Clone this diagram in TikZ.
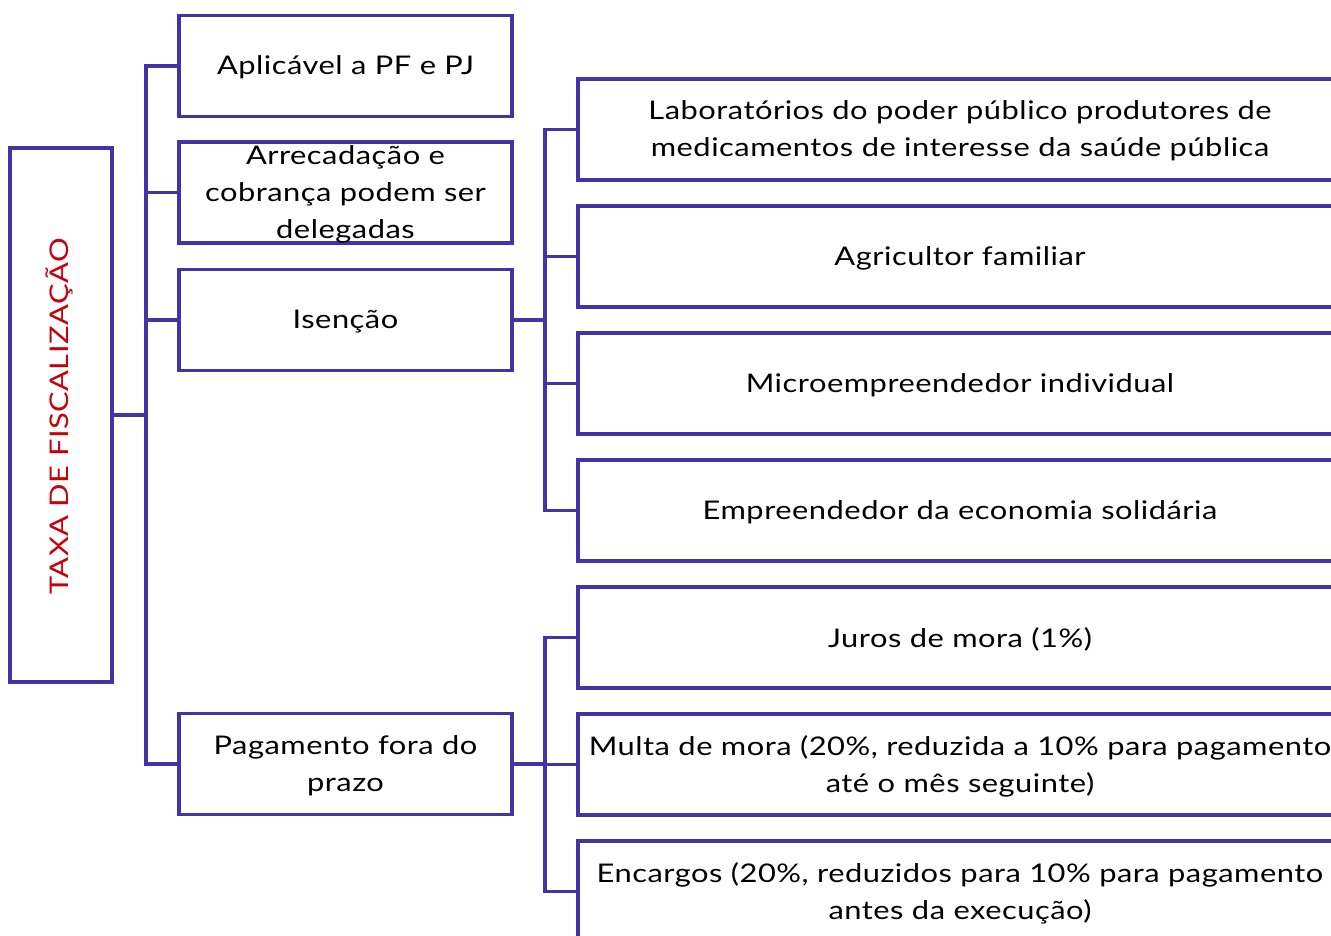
\documentclass[tikz,border=0pt]{standalone}
\usepackage{fontspec}
\setmainfont{Lato}[FakeStretch=1.2,LetterSpace=2]
\definecolor{pline}{RGB}{70,50,168}
\definecolor{tred}{RGB}{200,0,10}
\begin{document}
\begin{tikzpicture}[x=1pt,y=-1pt,
  boxs/.style={draw=pline,line width=3.2pt,inner sep=0pt,minimum height=101pt},
  midbox/.style={boxs,minimum width=333pt},
  rbox/.style={boxs,minimum width=764pt},
  txt/.style={font=\fontsize{25.7}{37}\selectfont,align=center,inner sep=0pt,yshift=-1.5pt},
  conn/.style={draw=pline,line width=3.2pt}]
\useasboundingbox (0,0) rectangle (1331,936);
\clip (0,0) rectangle (1331,936);
% left box
\node[boxs,minimum width=102pt,minimum height=534pt] (L) at (61,415) {};
\node[txt,text=tred,rotate=90,yshift=1.5pt] at (L) {TAXA DE FISCALIZAÇÃO};
% middle boxes
\node[midbox] (b1) at (345.5,66) {};
\node[txt] at (b1) {Aplicável a PF e PJ};
\node[midbox] (b2) at (345.5,192.5) {};
\node[txt] at (b2) {Arrecadação e\\cobrança podem ser\\delegadas};
\node[midbox] (b3) at (345.5,320) {};
\node[txt] at (b3) {Isenção};
\node[midbox] (b4) at (345.5,764) {};
\node[txt] at (b4) {Pagamento fora do\\prazo};
% right boxes
\node[rbox] (r1) at (960,129.5) {};
\node[txt] at (r1) {Laboratórios do poder público produtores de\\medicamentos de interesse da saúde pública};
\node[rbox] (r2) at (960,256.5) {};
\node[txt] at (r2) {Agricultor familiar};
\node[rbox] (r3) at (960,383.5) {};
\node[txt] at (r3) {Microempreendedor individual};
\node[rbox] (r4) at (960,510.5) {};
\node[txt] at (r4) {Empreendedor da economia solidária};
\node[rbox] (r5) at (960,637.5) {};
\node[txt] at (r5) {Juros de mora (1\%)};
\node[rbox] (r6) at (960,764.5) {};
\node[txt] at (r6) {Multa de mora (20\%, reduzida a 10\% para pagamento\\até o mês seguinte)};
\node[rbox] (r7) at (960,891.5) {};
\node[txt] at (r7) {Encargos (20\%, reduzidos para 10\% para pagamento\\antes da execução)};
% connectors
\coordinate (t) at (146,415);
\draw[conn] (L.east) -- (t);
\foreach \b in {b1,b2,b3,b4} \draw[conn] (t) |- (\b.west);
\coordinate (j1) at (545,320);
\draw[conn] (b3.east) -- (j1);
\foreach \b in {r1,r2,r3,r4} \draw[conn] (j1) |- (\b.west);
\coordinate (j2) at (545,764);
\draw[conn] (b4.east) -- (j2);
\foreach \b in {r5,r6,r7} \draw[conn] (j2) |- (\b.west);
\end{tikzpicture}
\end{document}
